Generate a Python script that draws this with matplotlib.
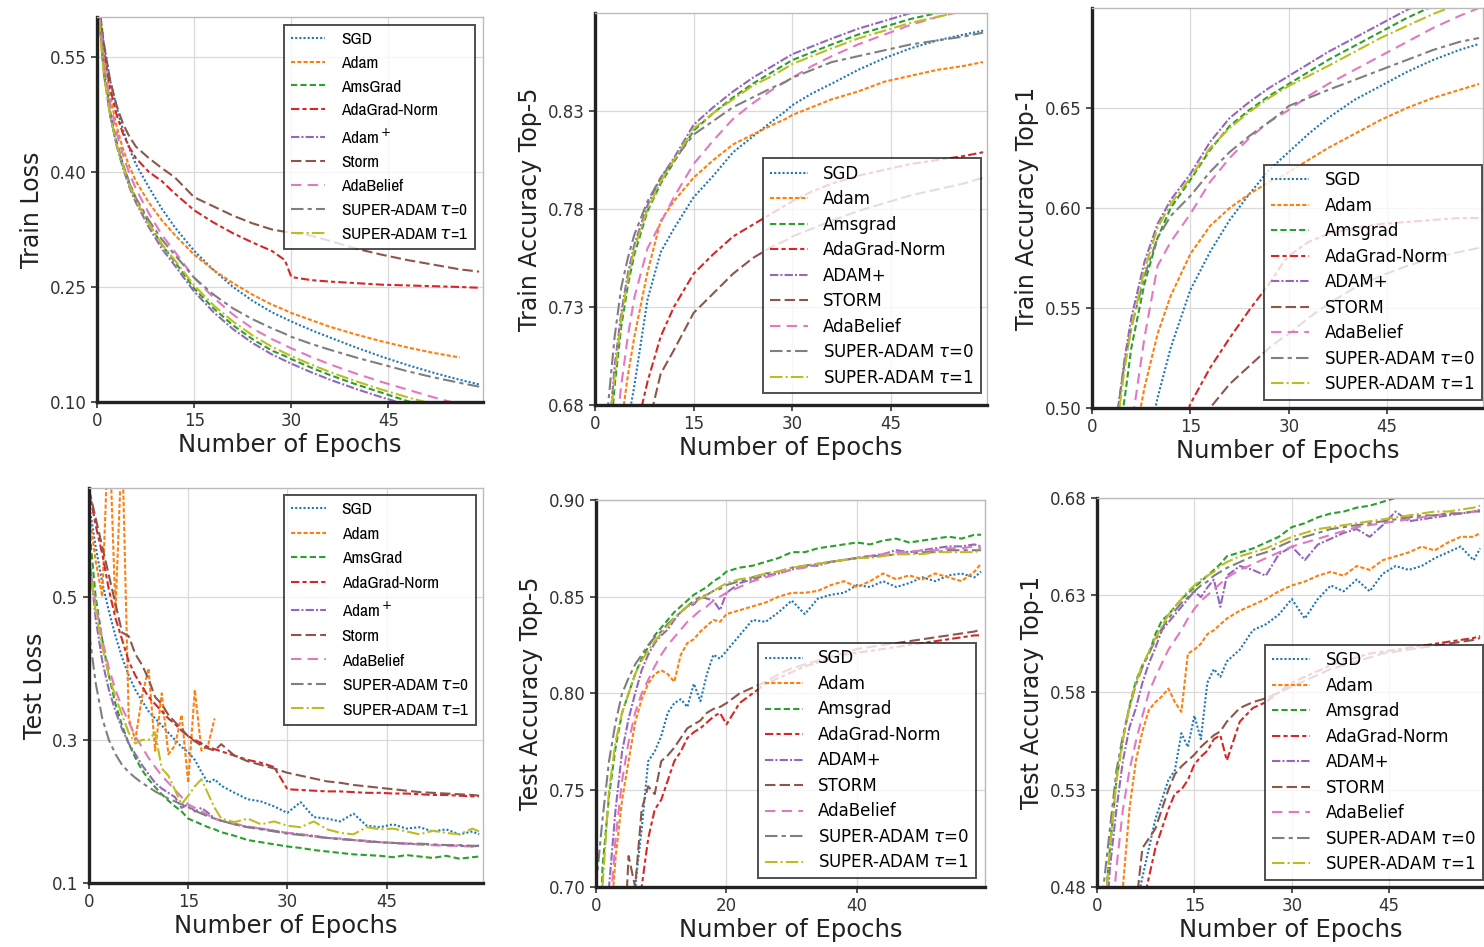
import numpy as np
import matplotlib
matplotlib.use('Agg')
import matplotlib.pyplot as plt
from matplotlib import font_manager

plt.rcParams['font.family'] = ['DejaVu Sans']

ep_train = [0, 1, 2, 3, 4, 5, 6, 8, 10, 12, 15, 18, 21, 24, 27, 29, 30, 33, 36, 40, 44, 48, 52, 56, 59]
ep_test = list(range(0, 21)) + list(range(22, 59, 2)) + [59]
nan = np.nan

labels_a = ['SGD', 'Adam', 'AmsGrad', 'AdaGrad-Norm', r'Adam$^+$', 'Storm', 'AdaBelief',
            r'SUPER-ADAM $\tau$=0', r'SUPER-ADAM $\tau$=1']
labels_b = ['SGD', 'Adam', 'Amsgrad', 'AdaGrad-Norm', 'ADAM+', 'STORM', 'AdaBelief',
            r'SUPER-ADAM $\tau$=0', r'SUPER-ADAM $\tau$=1']

# ---- train loss
tl_sgd = [0.64, 0.57, 0.52, 0.485, 0.455, 0.43, 0.41, 0.38, 0.352, 0.328, 0.297, 0.272, 0.250, 0.232, 0.217, 0.209, 0.205, 0.194, 0.184, 0.171, 0.159, 0.148, 0.138, 0.129, 0.123]
tl_adam = [0.64, 0.56, 0.50, 0.46, 0.43, 0.407, 0.388, 0.36, 0.337, 0.318, 0.292, 0.272, 0.255, 0.240, 0.227, 0.220, 0.216, 0.207, 0.198, 0.188, 0.179, 0.171, 0.164, 0.158, nan]
tl_ams = [0.64, 0.54, 0.48, 0.44, 0.41, 0.385, 0.365, 0.333, 0.305, 0.283, 0.248, 0.222, 0.200, 0.182, 0.167, 0.160, 0.156, 0.145, 0.135, 0.123, 0.112, 0.101, 0.092, 0.084, 0.078]
tl_adagrad = [0.64, 0.56, 0.51, 0.475, 0.45, 0.432, 0.418, 0.400, 0.388, 0.372, 0.350, 0.334, 0.320, 0.308, 0.297, 0.285, 0.263, 0.259, 0.257, 0.255, 0.253, 0.252, 0.251, 0.250, 0.249]
tl_adamp = [0.64, 0.535, 0.475, 0.435, 0.405, 0.38, 0.36, 0.328, 0.30, 0.278, 0.244, 0.217, 0.195, 0.177, 0.162, 0.154, 0.150, 0.139, 0.129, 0.117, 0.106, 0.096, 0.087, 0.079, 0.073]
tl_storm = [0.64, 0.57, 0.52, 0.487, 0.463, 0.446, 0.433, 0.418, 0.405, 0.393, 0.367, 0.355, 0.343, 0.333, 0.325, 0.322, 0.321, 0.317, 0.310, 0.300, 0.292, 0.285, 0.279, 0.273, 0.270]
tl_belief = [0.64, 0.55, 0.49, 0.452, 0.422, 0.398, 0.378, 0.346, 0.318, 0.296, 0.262, 0.236, 0.214, 0.196, 0.182, 0.174, 0.170, 0.159, 0.149, 0.137, 0.126, 0.116, 0.106, 0.097, 0.091]
tl_sup0 = [0.64, 0.53, 0.475, 0.437, 0.409, 0.386, 0.366, 0.337, 0.312, 0.292, 0.262, 0.240, 0.222, 0.208, 0.196, 0.189, 0.185, 0.176, 0.168, 0.158, 0.149, 0.140, 0.132, 0.125, 0.120]
tl_sup1 = [0.63, 0.53, 0.475, 0.437, 0.408, 0.383, 0.363, 0.332, 0.306, 0.285, 0.252, 0.226, 0.205, 0.187, 0.172, 0.164, 0.160, 0.149, 0.139, 0.127, 0.116, 0.106, 0.097, 0.089, 0.083]

# ---- train accuracy top-5
t5_sgd = [0.30, 0.45, 0.55, 0.61, 0.65, 0.671, 0.69, 0.734, 0.758, 0.770, 0.786, 0.797, 0.809, 0.817, 0.825, 0.830, 0.833, 0.839, 0.844, 0.851, 0.857, 0.862, 0.866, 0.869, 0.871]
t5_adam = [0.36, 0.52, 0.60, 0.64, 0.67, 0.695, 0.715, 0.748, 0.774, 0.784, 0.796, 0.805, 0.813, 0.818, 0.823, 0.826, 0.828, 0.832, 0.836, 0.840, 0.845, 0.848, 0.851, 0.853, 0.855]
t5_ams = [0.40, 0.57, 0.65, 0.69, 0.720, 0.741, 0.757, 0.779, 0.793, 0.804, 0.820, 0.829, 0.837, 0.844, 0.850, 0.854, 0.856, 0.860, 0.864, 0.869, 0.873, 0.877, 0.880, 0.883, 0.886]
t5_adagrad = [0.30, 0.45, 0.54, 0.59, 0.625, 0.647, 0.663, 0.692, 0.715, 0.730, 0.747, 0.757, 0.766, 0.772, 0.778, 0.782, 0.784, 0.789, 0.793, 0.797, 0.800, 0.803, 0.805, 0.807, 0.809]
t5_adamp = [0.40, 0.58, 0.66, 0.70, 0.727, 0.747, 0.762, 0.782, 0.796, 0.806, 0.823, 0.832, 0.840, 0.847, 0.853, 0.857, 0.859, 0.863, 0.867, 0.872, 0.876, 0.880, 0.884, 0.888, 0.891]
t5_storm = [0.28, 0.42, 0.50, 0.55, 0.59, 0.62, 0.64, 0.668, 0.696, 0.708, 0.727, 0.737, 0.747, 0.755, 0.761, 0.764, 0.766, 0.770, 0.774, 0.779, 0.783, 0.787, 0.790, 0.793, 0.796]
t5_belief = [0.38, 0.54, 0.62, 0.66, 0.69, 0.715, 0.735, 0.760, 0.773, 0.786, 0.803, 0.815, 0.826, 0.834, 0.841, 0.845, 0.847, 0.853, 0.858, 0.864, 0.869, 0.874, 0.878, 0.881, 0.883]
t5_sup0 = [0.42, 0.60, 0.68, 0.715, 0.74, 0.755, 0.767, 0.784, 0.796, 0.805, 0.818, 0.825, 0.832, 0.837, 0.842, 0.845, 0.847, 0.851, 0.855, 0.858, 0.861, 0.864, 0.866, 0.868, 0.870]
t5_sup1 = [0.40, 0.58, 0.66, 0.695, 0.724, 0.744, 0.760, 0.780, 0.794, 0.805, 0.821, 0.829, 0.836, 0.843, 0.848, 0.852, 0.854, 0.858, 0.862, 0.867, 0.871, 0.875, 0.878, 0.881, 0.884]

# ---- train accuracy top-1
t1_sgd = [0.10, 0.18, 0.25, 0.31, 0.36, 0.40, 0.43, 0.475, 0.505, 0.530, 0.559, 0.578, 0.594, 0.607, 0.619, 0.625, 0.628, 0.637, 0.645, 0.654, 0.661, 0.668, 0.674, 0.679, 0.682]
t1_adam = [0.15, 0.26, 0.33, 0.38, 0.42, 0.45, 0.475, 0.51, 0.537, 0.556, 0.577, 0.591, 0.600, 0.607, 0.613, 0.616, 0.618, 0.624, 0.630, 0.637, 0.644, 0.650, 0.655, 0.659, 0.662]
t1_ams = [0.19, 0.32, 0.40, 0.45, 0.485, 0.505, 0.53, 0.562, 0.585, 0.600, 0.614, 0.629, 0.641, 0.649, 0.656, 0.660, 0.662, 0.668, 0.674, 0.681, 0.688, 0.695, 0.701, 0.707, 0.711]
t1_adagrad = [0.10, 0.17, 0.22, 0.27, 0.31, 0.34, 0.37, 0.41, 0.445, 0.472, 0.502, 0.520, 0.535, 0.549, 0.562, 0.572, 0.576, 0.583, 0.587, 0.590, 0.592, 0.593, 0.594, 0.595, 0.595]
t1_adamp = [0.20, 0.33, 0.41, 0.465, 0.50, 0.525, 0.545, 0.573, 0.592, 0.604, 0.617, 0.633, 0.645, 0.653, 0.660, 0.664, 0.666, 0.672, 0.678, 0.685, 0.692, 0.699, 0.705, 0.711, 0.715]
t1_storm = [0.08, 0.14, 0.19, 0.23, 0.27, 0.30, 0.33, 0.37, 0.41, 0.44, 0.47, 0.50, 0.512, 0.521, 0.530, 0.535, 0.537, 0.545, 0.552, 0.560, 0.566, 0.571, 0.575, 0.578, 0.580]
t1_belief = [0.17, 0.28, 0.36, 0.41, 0.45, 0.475, 0.49, 0.535, 0.571, 0.583, 0.597, 0.613, 0.625, 0.635, 0.643, 0.647, 0.649, 0.656, 0.662, 0.669, 0.676, 0.683, 0.690, 0.696, 0.700]
t1_sup0 = [0.21, 0.34, 0.42, 0.47, 0.50, 0.523, 0.54, 0.566, 0.585, 0.596, 0.606, 0.618, 0.628, 0.636, 0.643, 0.648, 0.651, 0.655, 0.659, 0.664, 0.669, 0.674, 0.679, 0.683, 0.685]
t1_sup1 = [0.20, 0.33, 0.41, 0.46, 0.495, 0.52, 0.54, 0.569, 0.590, 0.602, 0.615, 0.630, 0.640, 0.648, 0.655, 0.659, 0.661, 0.666, 0.671, 0.678, 0.685, 0.691, 0.697, 0.702, 0.706]

# ---- test loss
sl_sgd = [0.63, 0.57, 0.52, 0.48, 0.445, 0.415, 0.39, 0.37, 0.355, 0.34, 0.33,
          0.32, 0.31, 0.30, 0.29, 0.283, 0.272, 0.255, 0.24, 0.245, 0.236,
          0.226, 0.217, 0.214, 0.207, 0.198, 0.213, 0.192, 0.19, 0.186, 0.197,
          0.18, 0.178, 0.182, 0.176, 0.178, 0.172, 0.175, 0.168, 0.172, 0.168]
sl_adam = [0.62, 0.55, 0.50, 0.75, 0.48, 0.72, 0.33, 0.30, 0.36, 0.40, 0.285,
           0.365, 0.28, 0.292, 0.335, 0.24, 0.37, 0.285, 0.292, 0.33, nan,
           nan, nan, nan, nan, nan, nan, nan, nan, nan, nan,
           nan, nan, nan, nan, nan, nan, nan, nan, nan, nan]
sl_ams = [0.60, 0.50, 0.44, 0.39, 0.35, 0.32, 0.295, 0.275, 0.258, 0.245, 0.234,
          0.224, 0.215, 0.207, 0.20, 0.19, 0.186, 0.182, 0.178, 0.175, 0.171,
          0.166, 0.16, 0.157, 0.154, 0.151, 0.149, 0.146, 0.144, 0.142, 0.14,
          0.139, 0.138, 0.136, 0.139, 0.137, 0.135, 0.138, 0.134, 0.136, 0.137]
sl_adagrad = [0.65, 0.60, 0.56, 0.51, 0.47, 0.44, 0.41, 0.39, 0.375, 0.36, 0.35,
              0.34, 0.33, 0.322, 0.313, 0.305, 0.30, 0.295, 0.29, 0.287, 0.284,
              0.278, 0.272, 0.268, 0.262, 0.231, 0.23, 0.229, 0.228, 0.228, 0.227,
              0.226, 0.226, 0.225, 0.225, 0.224, 0.223, 0.223, 0.222, 0.221, 0.221]
sl_adamp = [0.56, 0.47, 0.41, 0.37, 0.34, 0.315, 0.295, 0.28, 0.265, 0.252, 0.24,
            0.232, 0.226, 0.22, 0.205, 0.21, 0.20, 0.205, 0.198, 0.19, 0.187,
            0.182, 0.178, 0.176, 0.173, 0.17, 0.168, 0.166, 0.163, 0.162, 0.16,
            0.159, 0.157, 0.156, 0.155, 0.154, 0.153, 0.153, 0.152, 0.151, 0.152]
sl_storm = [0.65, 0.61, 0.57, 0.53, 0.49, 0.45, 0.445, 0.42, 0.405, 0.385, 0.36,
            0.35, 0.335, 0.325, 0.315, 0.305, 0.298, 0.292, 0.288, 0.285, 0.294,
            0.278, 0.27, 0.265, 0.26, 0.254, 0.25, 0.246, 0.242, 0.24, 0.237,
            0.235, 0.233, 0.231, 0.229, 0.227, 0.226, 0.225, 0.224, 0.223, 0.222]
sl_belief = [0.55, 0.49, 0.44, 0.40, 0.37, 0.345, 0.325, 0.305, 0.29, 0.275, 0.262,
             0.25, 0.24, 0.23, 0.22, 0.21, 0.205, 0.20, 0.195, 0.19, 0.187,
             0.183, 0.179, 0.176, 0.173, 0.17, 0.168, 0.165, 0.163, 0.162, 0.16,
             0.158, 0.157, 0.156, 0.155, 0.154, 0.153, 0.152, 0.152, 0.151, 0.15]
sl_sup0 = [0.45, 0.38, 0.33, 0.30, 0.28, 0.265, 0.255, 0.247, 0.24, 0.234, 0.228,
           0.223, 0.218, 0.214, 0.21, 0.206, 0.201, 0.197, 0.193, 0.19, 0.187,
           0.182, 0.178, 0.175, 0.172, 0.169, 0.167, 0.165, 0.163, 0.161, 0.16,
           0.158, 0.157, 0.156, 0.155, 0.155, 0.154, 0.153, 0.153, 0.152, 0.152]
sl_sup1 = [0.55, 0.48, 0.43, 0.39, 0.36, 0.335, 0.31, 0.295, 0.30, 0.30, 0.31,
           0.26, 0.25, 0.23, 0.21, 0.222, 0.235, 0.245, 0.225, 0.205, 0.19,
           0.185, 0.19, 0.182, 0.186, 0.18, 0.178, 0.186, 0.175, 0.17, 0.168,
           0.178, 0.175, 0.176, 0.172, 0.168, 0.173, 0.17, 0.168, 0.176, 0.172]

# ---- test accuracy top-5
s5_sgd = [0.45, 0.52, 0.58, 0.62, 0.65, 0.68, 0.70, 0.73, 0.765, 0.77, 0.778,
          0.79, 0.795, 0.797, 0.793, 0.805, 0.796, 0.81, 0.82, 0.818, 0.822,
          0.83, 0.838, 0.837, 0.842, 0.848, 0.841, 0.849, 0.851, 0.852, 0.856,
          0.855, 0.858, 0.855, 0.857, 0.86, 0.858, 0.861, 0.862, 0.86, 0.863]
s5_adam = [0.50, 0.60, 0.67, 0.715, 0.745, 0.765, 0.785, 0.797, 0.805, 0.81, 0.812,
           0.81, 0.806, 0.82, 0.826, 0.828, 0.832, 0.835, 0.838, 0.837, 0.841,
           0.843, 0.845, 0.847, 0.85, 0.852, 0.852, 0.853, 0.856, 0.858, 0.855,
           0.858, 0.862, 0.859, 0.861, 0.859, 0.862, 0.86, 0.858, 0.863, 0.867]
s5_ams = [0.60, 0.71, 0.747, 0.772, 0.79, 0.80, 0.81, 0.818, 0.824, 0.83, 0.834,
          0.838, 0.842, 0.845, 0.848, 0.851, 0.853, 0.855, 0.858, 0.86, 0.863,
          0.865, 0.866, 0.868, 0.87, 0.873, 0.873, 0.875, 0.876, 0.877, 0.878,
          0.877, 0.879, 0.88, 0.878, 0.879, 0.88, 0.881, 0.88, 0.882, 0.882]
s5_adagrad = [0.40, 0.48, 0.55, 0.60, 0.64, 0.66, 0.68, 0.70, 0.725, 0.74, 0.745,
              0.755, 0.765, 0.77, 0.777, 0.78, 0.782, 0.785, 0.788, 0.79, 0.784,
              0.795, 0.80, 0.805, 0.808, 0.811, 0.814, 0.816, 0.818, 0.82, 0.821,
              0.822, 0.823, 0.824, 0.825, 0.826, 0.827, 0.828, 0.829, 0.83, 0.83]
s5_adamp = [0.55, 0.64, 0.70, 0.74, 0.77, 0.787, 0.80, 0.812, 0.82, 0.826, 0.83,
            0.833, 0.838, 0.842, 0.845, 0.846, 0.85, 0.849, 0.848, 0.843, 0.852,
            0.857, 0.859, 0.861, 0.862, 0.864, 0.866, 0.866, 0.868, 0.869, 0.87,
            0.871, 0.872, 0.874, 0.873, 0.874, 0.875, 0.876, 0.876, 0.877, 0.876]
s5_storm = [0.40, 0.48, 0.55, 0.60, 0.65, 0.716, 0.70, 0.74, 0.752, 0.748, 0.765,
            0.768, 0.772, 0.777, 0.782, 0.784, 0.786, 0.79, 0.792, 0.793, 0.795,
            0.80, 0.803, 0.806, 0.81, 0.813, 0.815, 0.817, 0.819, 0.821, 0.823,
            0.824, 0.825, 0.826, 0.827, 0.828, 0.829, 0.83, 0.831, 0.832, 0.833]
s5_belief = [0.50, 0.60, 0.68, 0.725, 0.755, 0.775, 0.79, 0.80, 0.807, 0.814, 0.82,
             0.825, 0.829, 0.833, 0.837, 0.84, 0.843, 0.845, 0.848, 0.85, 0.852,
             0.855, 0.858, 0.86, 0.862, 0.864, 0.865, 0.867, 0.868, 0.869, 0.87,
             0.871, 0.872, 0.873, 0.873, 0.874, 0.874, 0.875, 0.875, 0.876, 0.875]
s5_sup0 = [0.70, 0.735, 0.765, 0.785, 0.80, 0.808, 0.815, 0.82, 0.825, 0.829, 0.832,
           0.836, 0.839, 0.842, 0.845, 0.848, 0.85, 0.851, 0.853, 0.854, 0.856,
           0.858, 0.86, 0.862, 0.863, 0.865, 0.866, 0.867, 0.868, 0.869, 0.87,
           0.871, 0.871, 0.872, 0.872, 0.873, 0.873, 0.874, 0.874, 0.874, 0.874]
s5_sup1 = [0.62, 0.70, 0.75, 0.775, 0.79, 0.80, 0.81, 0.817, 0.822, 0.827, 0.831,
           0.835, 0.839, 0.842, 0.845, 0.847, 0.849, 0.851, 0.853, 0.855, 0.857,
           0.859, 0.86, 0.862, 0.863, 0.865, 0.866, 0.867, 0.868, 0.869, 0.87,
           0.87, 0.871, 0.872, 0.872, 0.872, 0.873, 0.873, 0.873, 0.873, 0.874]

# ---- test accuracy top-1
s1_sgd = [0.25, 0.30, 0.35, 0.39, 0.42, 0.45, 0.47, 0.485, 0.50, 0.515, 0.525,
          0.535, 0.54, 0.559, 0.552, 0.568, 0.556, 0.585, 0.592, 0.588, 0.596,
          0.602, 0.612, 0.615, 0.62, 0.628, 0.618, 0.628, 0.635, 0.632, 0.638,
          0.632, 0.641, 0.645, 0.643, 0.645, 0.649, 0.652, 0.655, 0.648, 0.654]
s1_adam = [0.30, 0.36, 0.41, 0.45, 0.48, 0.52, 0.545, 0.56, 0.571, 0.575, 0.578,
           0.582, 0.575, 0.57, 0.60, 0.602, 0.605, 0.61, 0.612, 0.615, 0.618,
           0.622, 0.625, 0.628, 0.632, 0.635, 0.637, 0.64, 0.642, 0.64, 0.645,
           0.643, 0.648, 0.65, 0.652, 0.655, 0.653, 0.657, 0.66, 0.66, 0.662]
s1_ams = [0.35, 0.46, 0.50, 0.535, 0.556, 0.573, 0.586, 0.594, 0.60, 0.61, 0.617,
          0.62, 0.624, 0.628, 0.631, 0.634, 0.637, 0.64, 0.643, 0.646, 0.65,
          0.652, 0.654, 0.657, 0.66, 0.665, 0.667, 0.67, 0.672, 0.673, 0.675,
          0.676, 0.678, 0.68, 0.681, 0.683, 0.683, 0.684, 0.685, 0.686, 0.687]
s1_adagrad = [0.25, 0.30, 0.34, 0.38, 0.41, 0.43, 0.45, 0.47, 0.485, 0.50, 0.51,
              0.52, 0.528, 0.53, 0.535, 0.543, 0.547, 0.55, 0.556, 0.558, 0.545,
              0.565, 0.572, 0.575, 0.58, 0.585, 0.588, 0.591, 0.594, 0.596, 0.598,
              0.60, 0.601, 0.602, 0.603, 0.604, 0.605, 0.606, 0.607, 0.608, 0.609]
s1_adamp = [0.38, 0.44, 0.49, 0.52, 0.545, 0.562, 0.572, 0.585, 0.595, 0.603, 0.612,
            0.616, 0.62, 0.624, 0.628, 0.632, 0.629, 0.634, 0.638, 0.624, 0.64,
            0.645, 0.643, 0.64, 0.651, 0.655, 0.648, 0.656, 0.659, 0.662, 0.664,
            0.66, 0.666, 0.673, 0.668, 0.669, 0.67, 0.671, 0.672, 0.673, 0.674]
s1_storm = [0.25, 0.30, 0.35, 0.39, 0.42, 0.45, 0.47, 0.50, 0.505, 0.51, 0.52,
            0.53, 0.538, 0.542, 0.545, 0.548, 0.552, 0.555, 0.558, 0.56, 0.565,
            0.572, 0.575, 0.577, 0.58, 0.583, 0.586, 0.589, 0.592, 0.594, 0.596,
            0.598, 0.60, 0.601, 0.602, 0.603, 0.604, 0.605, 0.606, 0.607, 0.608]
s1_belief = [0.33, 0.40, 0.45, 0.49, 0.52, 0.54, 0.555, 0.568, 0.58, 0.588, 0.595,
             0.602, 0.607, 0.612, 0.618, 0.623, 0.627, 0.63, 0.633, 0.636, 0.639,
             0.643, 0.646, 0.649, 0.652, 0.655, 0.657, 0.659, 0.661, 0.663, 0.665,
             0.666, 0.667, 0.668, 0.669, 0.67, 0.671, 0.672, 0.672, 0.673, 0.674]
s1_sup0 = [0.44, 0.48, 0.51, 0.54, 0.558, 0.572, 0.584, 0.593, 0.60, 0.607, 0.613,
           0.618, 0.622, 0.626, 0.629, 0.632, 0.635, 0.637, 0.64, 0.642, 0.644,
           0.647, 0.65, 0.652, 0.655, 0.658, 0.66, 0.662, 0.664, 0.665, 0.666,
           0.667, 0.668, 0.669, 0.67, 0.671, 0.671, 0.672, 0.672, 0.673, 0.673]
s1_sup1 = [0.40, 0.46, 0.50, 0.535, 0.556, 0.572, 0.585, 0.594, 0.601, 0.608, 0.614,
           0.62, 0.624, 0.628, 0.632, 0.635, 0.638, 0.64, 0.642, 0.645, 0.647,
           0.65, 0.652, 0.654, 0.657, 0.66, 0.662, 0.664, 0.665, 0.666, 0.667,
           0.668, 0.669, 0.67, 0.671, 0.672, 0.673, 0.673, 0.674, 0.675, 0.676]

colors = ['tab:blue', 'tab:orange', 'tab:green', 'tab:red', 'tab:purple',
          'tab:brown', 'tab:pink', 'tab:gray', 'tab:olive']
styles = [(0, (1, 1)), (0, (2, 1)), (0, (3, 1.5)), (0, (4, 1.5, 2, 1.5)),
          (0, (4, 1, 1, 1)), (0, (5, 2)), (0, (5, 3)), (0, (6, 2, 2, 2)),
          (0, (6, 1.5, 1, 1.5))]

# narrow face for the two loss legends, if it is installed
narrow = [f.name for f in font_manager.fontManager.ttflist if 'Narrow' in f.name]
loss_font = [narrow[0], 'DejaVu Sans'] if narrow else ['DejaVu Sans']
loss_size = 12.5 if narrow else 10.5


def panel(rect, ep, series, labels, ylabel, ylim, yticks, xticks, loc, anchor, lfs, lsp, fam, hl):
    ax = fig.add_axes(rect)
    for y, c, ls, lab in zip(series, colors, styles, labels):
        ax.plot(ep, y, color=c, linestyle=ls, lw=1.5, label=lab)
    ax.set_xlim(0, 59.6)
    ax.set_ylim(*ylim)
    ax.set_xticks(xticks)
    ax.set_yticks(yticks)
    ax.yaxis.set_major_formatter(matplotlib.ticker.FormatStrFormatter(
        '%.1f' if ylabel == 'Test Loss' else '%.2f'))
    ax.grid(color='#d9d9d9', lw=0.9)
    for s in ['top', 'right']:
        ax.spines[s].set_color('#bbbbbb')
        ax.spines[s].set_linewidth(1.0)
    for s in ['left', 'bottom']:
        ax.spines[s].set_color('#222222')
        ax.spines[s].set_linewidth(2.4)
    ax.tick_params(labelsize=12, colors='#333333', length=4, width=1.2)
    ax.set_xlabel('Number of Epochs', fontsize=17.5, color='#222222', labelpad=2)
    ax.set_ylabel(ylabel, fontsize=17, color='#222222', labelpad=4)
    leg = ax.legend(loc=loc, bbox_to_anchor=anchor, fancybox=False,
                    prop={'family': fam, 'size': lfs},
                    handlelength=hl, handletextpad=0.9, labelspacing=lsp,
                    borderaxespad=0.0, framealpha=0.8, borderpad=0.4)
    leg.get_frame().set_edgecolor('#222222')
    leg.get_frame().set_linewidth(1.4)
    return ax


fig = plt.figure(figsize=(14.84, 9.47), dpi=100)

panel([0.0654, 0.5755, 0.2601, 0.4065], ep_train,
      [tl_sgd, tl_adam, tl_ams, tl_adagrad, tl_adamp, tl_storm, tl_belief, tl_sup0, tl_sup1],
      labels_a, 'Train Loss', (0.10, 0.602), [0.10, 0.25, 0.40, 0.55], [0, 15, 30, 45],
      'upper right', (0.98, 0.98), loss_size, 0.5, loss_font, 2.0)
panel([0.4009, 0.5723, 0.2642, 0.4139], ep_train,
      [t5_sgd, t5_adam, t5_ams, t5_adagrad, t5_adamp, t5_storm, t5_belief, t5_sup0, t5_sup1],
      labels_b, 'Train Accuracy Top-5', (0.68, 0.88), [0.68, 0.73, 0.78, 0.83], [0, 15, 30, 45],
      'lower right', (0.985, 0.03), 12, 0.45, ['DejaVu Sans'], 2.3)
panel([0.7358, 0.5692, 0.2635, 0.4224], ep_train,
      [t1_sgd, t1_adam, t1_ams, t1_adagrad, t1_adamp, t1_storm, t1_belief, t1_sup0, t1_sup1],
      labels_b, 'Train Accuracy Top-1', (0.50, 0.70), [0.50, 0.55, 0.60, 0.65], [0, 15, 30, 45],
      'lower right', (0.998, 0.02), 12, 0.45, ['DejaVu Sans'], 2.3)
panel([0.0600, 0.0676, 0.2655, 0.4171], ep_test,
      [sl_sgd, sl_adam, sl_ams, sl_adagrad, sl_adamp, sl_storm, sl_belief, sl_sup0, sl_sup1],
      labels_a, 'Test Loss', (0.10, 0.652), [0.1, 0.3, 0.5], [0, 15, 30, 45],
      'upper right', (0.982, 0.982), loss_size, 0.54, loss_font, 2.0)
panel([0.4016, 0.0634, 0.2621, 0.4087], ep_test,
      [s5_sgd, s5_adam, s5_ams, s5_adagrad, s5_adamp, s5_storm, s5_belief, s5_sup0, s5_sup1],
      labels_b, 'Test Accuracy Top-5', (0.70, 0.90), [0.70, 0.75, 0.80, 0.85, 0.90], [0, 20, 40],
      'lower right', (0.977, 0.023), 12, 0.45, ['DejaVu Sans'], 2.3)
panel([0.7392, 0.0634, 0.2608, 0.4108], ep_test,
      [s1_sgd, s1_adam, s1_ams, s1_adagrad, s1_adamp, s1_storm, s1_belief, s1_sup0, s1_sup1],
      labels_b, 'Test Accuracy Top-1', (0.48, 0.68), [0.48, 0.53, 0.58, 0.63, 0.68], [0, 15, 30, 45],
      'lower right', (0.998, 0.018), 12, 0.45, ['DejaVu Sans'], 2.3)

fig.savefig('out.png', dpi=100)
